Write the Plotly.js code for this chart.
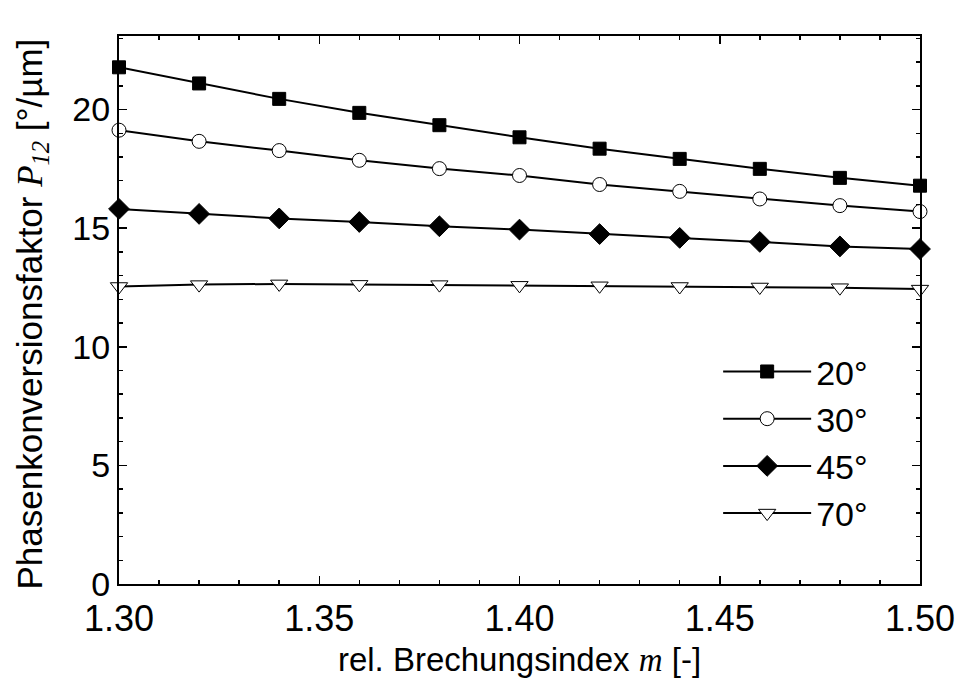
<!DOCTYPE html>
<html>
<head>
<meta charset="utf-8">
<script src="https://cdn.plot.ly/plotly-3.0.1.min.js"></script>
<style>html,body{margin:0;padding:0;background:#fff;}#chart{width:961px;height:685px;}</style>
</head>
<body>
<div id="chart"></div>
<script>
var m = [1.30, 1.32, 1.34, 1.36, 1.38, 1.40, 1.42, 1.44, 1.46, 1.48, 1.50];
var p20 = [21.78, 21.10, 20.45, 19.86, 19.34, 18.83, 18.35, 17.92, 17.50, 17.12, 16.79];
var p30 = [19.13, 18.66, 18.27, 17.86, 17.51, 17.22, 16.84, 16.55, 16.23, 15.95, 15.70];
var p45 = [15.81, 15.60, 15.41, 15.26, 15.08, 14.94, 14.75, 14.59, 14.42, 14.23, 14.12];
var p70 = [12.54, 12.62, 12.65, 12.63, 12.62, 12.59, 12.57, 12.54, 12.52, 12.49, 12.43];
var seriesNames = ['20°', '30°', '45°', '70°'];

var FONT = 'Liberation Sans, Arial, sans-serif';
var SERIF_I = 'font-family:Liberation Serif;font-style:italic';
function tr(y, name, sym, fill, size) {
  return {
    x: m, y: y, name: name, type: 'scatter', mode: 'lines+markers',
    line: {color: '#000', width: 2},
    marker: {symbol: sym, size: size, color: fill, line: {color: '#000', width: 1}},
    cliponaxis: false
  };
}
var data = [
  tr(p20, seriesNames[0], 'square', '#000', 13),
  tr(p30, seriesNames[1], 'circle', '#fff', 14),
  tr(p45, seriesNames[2], 'diamond', '#000', 16),
  tr(p70, seriesNames[3], 'triangle-down', '#fff', 15)
];
var layout = {
  width: 961, height: 685,
  margin: {l: 119, r: 41, t: 36, b: 101},
  paper_bgcolor: '#fff', plot_bgcolor: '#fff',
  font: {family: FONT, color: '#000', size: 32},
  showlegend: true,
  legend: {x: 0.748, y: 0.44, xanchor: 'left', yanchor: 'top', bgcolor: 'rgba(0,0,0,0)',
           font: {family: FONT, size: 34}, itemwidth: 88, tracegroupgap: 0},
  xaxis: {
    range: [1.30, 1.50], tickmode: 'array', tickvals: [1.30, 1.35, 1.40, 1.45, 1.50],
    ticktext: ['1.30', '1.35', '1.40', '1.45', '1.50'],
    ticks: 'inside', ticklen: 8, tickwidth: 1.5, tickcolor: '#000',
    minor: {dtick: 0.01, ticks: 'inside', ticklen: 4, tickwidth: 1.5, tickcolor: '#000', showgrid: false},
    showline: true, linecolor: '#000', linewidth: 2, mirror: 'allticks',
    showgrid: false, zeroline: false,
    tickfont: {family: FONT, size: 36}, ticklabelstandoff: 2,
    title: {text: 'rel. Brechungsindex <span style="' + SERIF_I + '">m</span> [-]',
            font: {family: FONT, size: 33}, standoff: 10}
  },
  yaxis: {
    range: [0, 23.1], tickmode: 'array', tickvals: [0, 5, 10, 15, 20],
    ticks: 'inside', ticklen: 8, tickwidth: 1.5, tickcolor: '#000',
    minor: {dtick: 1, ticks: 'inside', ticklen: 4, tickwidth: 1.5, tickcolor: '#000', showgrid: false},
    showline: true, linecolor: '#000', linewidth: 2, mirror: 'allticks',
    showgrid: false, zeroline: false,
    tickfont: {family: FONT, size: 34}
  },
  annotations: [{
    xref: 'paper', yref: 'paper', x: -0.109, y: 0.493, xanchor: 'center', yanchor: 'middle',
    textangle: -90, showarrow: false,
    font: {family: FONT, size: 35, color: '#000'},
    text: 'Phasenkonversionsfaktor <span style="' + SERIF_I + '">P</span><sub><span style="' + SERIF_I + '">12</span></sub> [°/µm]'
  }]
};
Plotly.newPlot('chart', data, layout, {displayModeBar: false, staticPlot: true});
</script>
</body>
</html>
